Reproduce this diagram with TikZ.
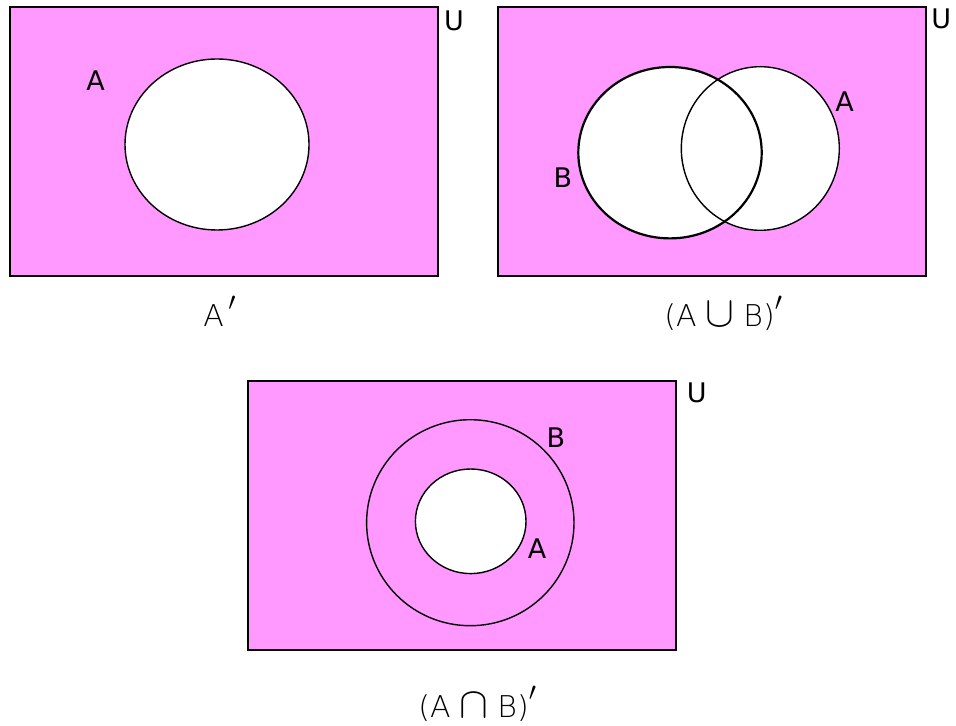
\documentclass[tikz,border=0pt]{standalone}
\usepackage{fontspec}
\setmainfont{DejaVu Sans}
\newfontfamily\capfont{DejaVu Sans ExtraLight}
\definecolor{vennpink}{RGB}{255,153,255}
\newcommand\vprime{\raisebox{.55em}{\scalebox{.9}{$\prime$}}}
\newcommand\vop[1]{\hspace{.3em}\scalebox{1.5}{$#1$}\hspace{.3em}}
\begin{document}
\begin{tikzpicture}[x=.5pt,y=-.5pt,font=\fontsize{13.5}{15}\selectfont,
  univ/.style={fill=vennpink,line width=1pt},
  setc/.style={fill=white,line width=.7pt},
  lbl/.style={inner sep=0pt},
  capt/.style={anchor=base west,inner sep=0pt,font=\capfont\fontsize{15}{17}\selectfont}]
\useasboundingbox(0,0)rectangle(956,726);
% A'
\filldraw[univ](10,7)rectangle(437.5,276);
\filldraw[setc](217,144.5)ellipse[x radius=92,y radius=85.5];
\node[lbl](a1)at(95.5,81){A};
\node[lbl](u1)at(454,20.5){U};
\node[capt](c1)at(203,327){A\kern.15em\vprime};
% (A u B)'
\filldraw[univ](498,7)rectangle(925.5,276);
\fill[white](670,152.7)ellipse[x radius=91.7,y radius=85.7];
\filldraw[setc](760.3,148.5)ellipse[x radius=79,y radius=81.8];
\draw[line width=1.1pt](670,152.7)ellipse[x radius=91.7,y radius=85.7];
\node[lbl](a2)at(844.5,101.7){A};\node[lbl](b2)at(563,177.5){B};
\node[lbl](u2)at(941.3,18.5){U};
\node[capt](c2)at(664,327){(A\vop\cup B)\vprime};
% (A n B)'
\filldraw[univ](248.3,381)rectangle(676,650);
\draw[line width=.7pt](470.3,522.7)ellipse[x radius=103.7,y radius=103];
\filldraw[setc](470.7,521.3)ellipse[x radius=55.3,y radius=52.3];
\node[lbl](b3)at(556,438){B};\node[lbl](a3)at(537,548.3){A};
\node[lbl](u3)at(696.7,393.3){U};
\node[capt](c3)at(418,717){(A\vop\cap B)\vprime};
\end{tikzpicture}
\end{document}
